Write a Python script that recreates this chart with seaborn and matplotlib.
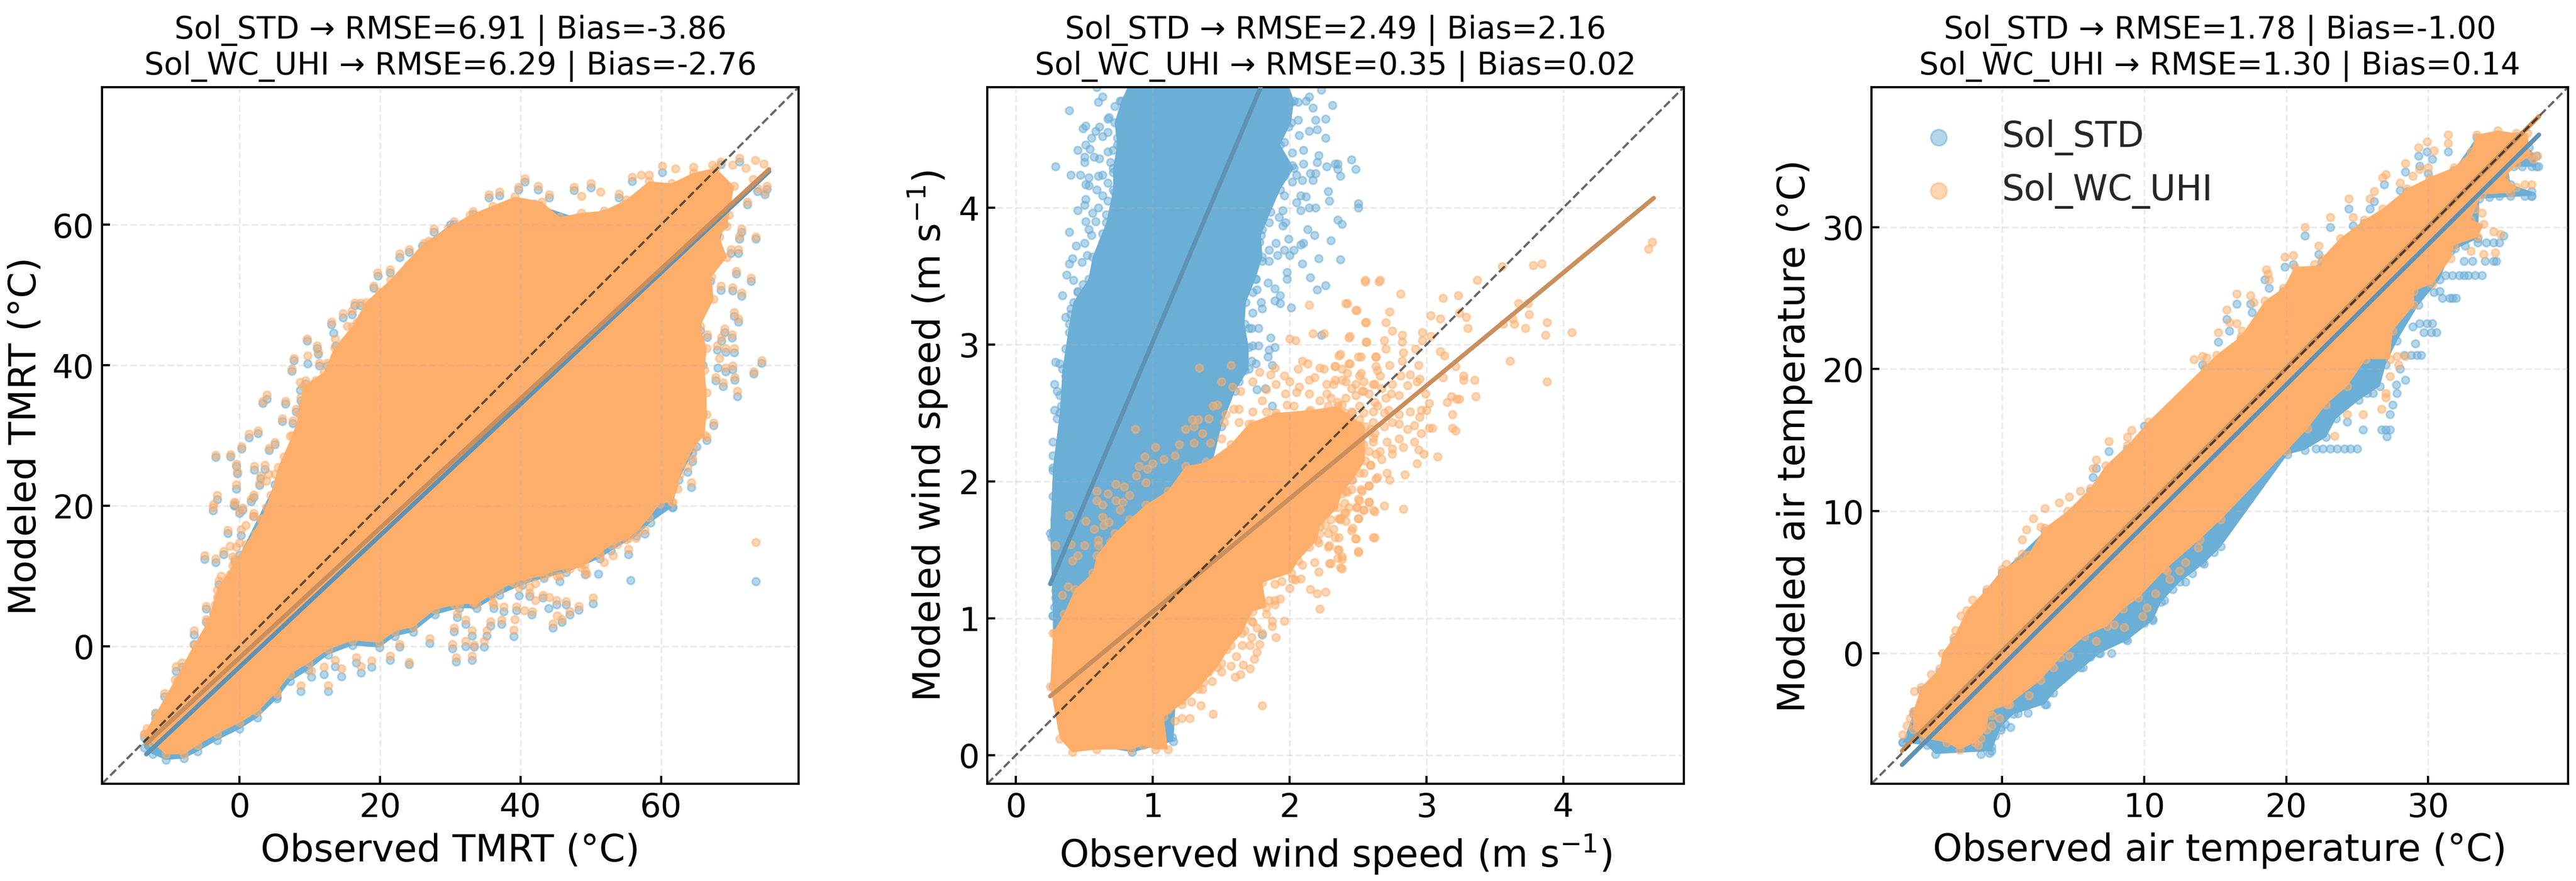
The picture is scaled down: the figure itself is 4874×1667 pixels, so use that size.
import matplotlib
matplotlib.use("Agg")
import matplotlib.pyplot as plt
import pandas as pd
import seaborn as sns

STD = "Sol_STD"
UHI = "Sol_WC_UHI"
BLUE = "#6baed6"
ORANGE = "#fdae6b"
BLUE_LINE = "#5f92b4"
ORANGE_LINE = "#c98f5c"

titles = [
    "Sol_STD → RMSE=6.91 | Bias=-3.86\nSol_WC_UHI → RMSE=6.29 | Bias=-2.76",
    "Sol_STD → RMSE=2.49 | Bias=2.16\nSol_WC_UHI → RMSE=0.35 | Bias=0.02",
    "Sol_STD → RMSE=1.78 | Bias=-1.00\nSol_WC_UHI → RMSE=1.30 | Bias=0.14",
]
xlabels = ["Observed TMRT (°C)", r"Observed wind speed (m s$^{-1}$)", "Observed air temperature (°C)"]
ylabels = ["Modeled TMRT (°C)", r"Modeled wind speed (m s$^{-1}$)", "Modeled air temperature (°C)"]
limits = [(-19.6, 79.6), (-0.21, 4.88), (-9.2, 39.85)]
ticks = [[0, 20, 40, 60], [0, 1, 2, 3, 4], [0, 10, 20, 30]]

# regression line end points
tmrt_fit_x = [-13.3, 75.4]
tmrt_fit_std = [-15.4, 67.6]
tmrt_fit_uhi = [-13.9, 67.9]
wind_fit_x = [0.25, 4.66]
wind_fit_std = [1.25, 11.66]
wind_fit_uhi = [0.43, 4.07]
air_fit_x = [-7.05, 37.8]
air_fit_std = [-7.87, 36.5]
air_fit_uhi = [-6.88, 37.8]

# the clouds are too dense to read point by point: outline of the solid part
tmrt_edge_std = [(-13.6, -13), (-12, -9.5), (-9, -6), (-6, -0.8), (-3, 7), (0, 13), (5, 23), (10, 31), (15, 40),
                 (18, 47), (21.5, 51), (26, 57), (30, 60), (36, 62), (42, 63), (48, 61), (55, 63), (62, 65), (67, 67),
                 (69, 60), (68, 56), (67, 52), (65.6, 45), (66, 40), (66, 33), (64.5, 27.5), (62.5, 23.7),
                 (61.6, 19.8), (58.5, 17.6), (56.5, 15.7), (52.9, 13.6), (51.3, 12.5), (46.5, 10.5), (43.3, 9.7),
                 (40.2, 8.7), (37, 7.3), (33.8, 5.4), (31.3, 5.4), (27.8, 4.5), (24.7, 2), (22.1, 1.4), (19.9, -0.2),
                 (16.1, 0.1), (12.6, -1.2), (9.8, -3.4), (7.2, -5), (5.3, -7.5), (2.5, -10.2), (0, -11.8),
                 (-3.2, -13.4), (-6, -15), (-7.9, -16), (-10.5, -16.2), (-12.4, -15.4), (-13.6, -14.5)]
tmrt_edge_uhi = [(-13.6, -12.5), (-9.2, -4.8), (-6.5, 0.2), (-4.5, 3.5), (-3.2, 8), (-1, 11.5), (0.9, 14.5), (3, 18), (4.4, 21.5),
                 (5.5, 25.5), (7.5, 30), (8.5, 33), (9, 37), (12, 39), (13.5, 42.5), (16, 45.5), (18, 49), (21.5, 52.2), (26.2, 57.4),
                 (29.7, 59.6), (32.8, 61.4), (36, 62.7), (39.2, 64), (43, 63.3), (45.6, 61.1), (48.7, 61.7), (51.9, 62), (55.1, 63.6),
                 (58.3, 66.2), (61.5, 65.9), (64.6, 67.4), (67.8, 68.1), (70.4, 65.5), (69.7, 61.4), (69.4, 59.8),
                 (68.3, 58.3), (69.4, 55.4), (67.2, 52.6), (67.5, 49.4), (65.6, 45.6), (66.5, 42.4), (66.2, 39.3),
                 (66.5, 36.1), (66.5, 33), (66.2, 30.1), (64.6, 28.2), (62.7, 24.4), (62.4, 22.4), (61.5, 20.5),
                 (59.9, 20.3), (58.3, 18.3), (56.7, 16.4), (55.1, 15.2), (52.9, 14.4), (51.3, 13.2), (48.7, 11.2),
                 (46.5, 11), (44, 10.4), (43.3, 10), (40.2, 9.4), (39, 9), (37, 8), (33.8, 6), (31.3, 6),
                 (27.8, 5.2), (24.7, 2.7), (22.1, 2.1), (19.9, 0.5), (16.1, 0.8), (12.6, -0.5), (9.8, -2.4), (7.2, -4),
                 (5.3, -6.5), (2.5, -9.4), (0, -10.9), (-3.2, -12.5), (-6, -14.1), (-7.9, -15.4), (-10.5, -15.4),
                 (-12.4, -13.8), (-13.6, -12.5)]

# single points outside the solid part
tmrt_pts_uhi = [(9.6, 43.8), (11, 42.8), (11.2, 41.9), (7.7, 41), (9.7, 41.4), (7.4, 39.5), (13.1, 46.2), (14.7, 47.4),
                (16, 47.8), (16.4, 48.9), (17.2, 48.9), (13.6, 43.8), (15.3, 45.6), (16.7, 46.1), (13.6, 41.4),
                (12.5, 40.3), (11.3, 40.3), (19.6, 53.2), (19.1, 51.3), (22.8, 55.9), (24.1, 56.5), (27.7, 59.4),
                (21.4, 53.6), (3.9, 35.8), (3.3, 34.9), (6.5, 34.9), (8.6, 37.6), (9.4, 37.8), (10.8, 37.8), (12.2, 38.3),
                (8.7, 35.4), (9, 34.5), (8, 33.8), (8.8, 32.7), (6.1, 32.4), (7.6, 32.1), (1.3, 30.2), (2.6, 30.7),
                (0.3, 28.4), (5, 29), (4.2, 28.2), (-3.4, 27.2), (-1.3, 27.3), (-0.5, 25.9), (-0.3, 24.9), (2.1, 25.6),
                (3.6, 25.8), (3, 24.3), (2.8, 23.2), (-0.5, 23), (-3.2, 21.5), (-0.7, 20.5), (2, 21.6), (1.6, 21),
                (-3.7, 20.2), (-3.8, 19.8), (-0.8, 20.4), (0.4, 19.7), (0, 19.2), (2, 18.9), (-1.7, 16.5), (0.2, 16.6),
                (0.9, 17.2), (-1.4, 14.3), (-0.5, 14.1), (-5, 12.9), (-3.4, 12.5), (-2.3, 13.5), (-0.7, 12.5),
                (-0.3, 11.1), (-2.7, 10), (-3, 9.3), (-1.5, 9.8), (-4.8, 5.7), (-3.2, 7), (-4.8, 3.8), (-3.7, 4.9),
                (-6.5, 2.2), (-9.1, -2.9), (-8.2, -2.4), (-7.2, -2.4), (-8.8, -5), (-10.7, -6.7), (-12, -9.7),
                (-13.2, -11.7), (24.1, -2.3), (21.4, -1.4), (18.8, -2.1), (17.3, -2.9), (14.5, -3.2), (16.6, -1.6),
                (12.6, -5.6), (8.7, -5.6), (12, -3), (10.2, -3.5), (13.6, -2), (22.8, 0.3), (27.1, 1.1), (5.3, -6.8),
                (73.5, 14.8), (50.3, 6.9), (48.3, 5.7), (46.5, 6.4), (47, 4.9), (45.1, 6.5), (43.2, 7.3), (44.1, 7),
                (42.1, 6.5), (41.7, 4.9), (45.2, 4.3), (45.9, 3.8), (44.6, 3.2), (39.8, 8.3), (41.3, 7.6), (40.5, 5.1),
                (39.4, 5.6), (37.6, 5.6), (35.7, 3.5), (37.3, 3.7), (39.2, 3.8), (39, 2.3), (35.2, 2.2), (34.8, 0.7),
                (33.4, 0.2), (32.2, 0.7), (30.3, 0.3), (33.1, -1.4), (30.8, -1.6), (33.1, 2.2), (32.2, 3.7), (30.5, 2.6),
                (31, 4.6), (33.2, 6.5), (36.2, 5.9), (45.6, 10), (49.2, 10.7), (55.4, 13.8), (57.7, 16.5), (61.7, 20.5),
                (64.3, 23.3), (63.8, 25.5), (66.5, 29.8), (64.5, 26.7), (73.5, 58.3), (74.3, 40.7), (73.2, 39.1),
                (72.8, 52.4), (71.5, 50.3), (71.5, 59.4), (71.2, 58.4), (70.9, 36.3), (70.2, 51.1), (68.5, 51.3),
                (70.4, 47.5), (71, 46.6), (69.1, 45.2), (70.1, 44.4), (68, 42.8), (69.2, 42.4), (70.4, 42.4), (68.3, 41),
                (70.2, 39.9), (69.2, 39.6), (70.5, 38.3), (67.8, 38.3), (68.8, 37.5), (67.5, 31.8), (68.6, 44), (66.6, 44.4),
                (70.7, 53.4), (70, 56.5), (71, 56.5), (75.1, 65.5), (74.8, 64.7), (73.7, 65.2), (72.3, 63.3), (73.1, 66.5),
                (74.6, 68.7), (73.4, 69.2), (72.1, 68.1), (71.2, 69.5), (70.2, 68.5), (68.5, 69), (67.3, 68.5), (64.6, 68.2),
                (62.1, 68), (60.2, 68.4), (55.9, 66.8), (57.2, 67.1), (58.3, 67.1), (54, 64.4), (51.4, 64.7), (50, 65.9),
                (47.6, 65.4), (48.7, 64.1), (40.6, 66.6), (39.7, 65.4), (42.5, 65.5), (44.1, 64.3), (37, 64.7), (35.5, 64.3),
                (33.2, 61.9), (30.5, 60.5),
                (33, 7.5), (33.2, 6.2), (32.8, 8.1), (30.9, 6.5), (30.6, 5.9), (31.6, 6.5), (36, 7.2), (36, 6.2), (35.7, 7.8), (35.1, 9.1),
                (37, 9.7), (38.6, 9.2), (40.2, 10), (41, 9.7), (41.3, 8.4), (42.1, 8.9), (44.9, 11.6), (45.2, 10), (47, 11), (47.5, 11.6),
                (49.1, 11.6), (49.4, 10.3), (51.3, 12.9), (51.9, 11.9), (53.2, 15.1), (53.8, 14.5), (53.2, 12.9), (56.4, 15.4), (55.4, 15.4),
                (7.2, 29.9), (7.9, 28.9), (8.8, 27), (7.6, 27), (6.3, 27), (5, 24.5), (4.1, 24.5), (3.8, 23.5), (8.8, 30.2), (10.1, 31.5),
                (9.8, 34.6), (10.4, 35.3), (12, 37.5), (13.6, 39), (14.8, 43.2), (15.5, 41.6), (16.7, 43.5), (18, 47.3), (19.9, 50.4),
                (22.4, 52), (24, 54.2), (25.9, 56.1), (26.9, 57.7), (28.1, 57.7), (1.9, 18.5), (3.8, 19.8), (3.1, 18.2), (2.2, 16), (0, 14.7),
                (-1, 12.8), (-0.7, 11.6), (-1.3, 10.3), (-2.6, 8.1), (-3.5, 5.9), (-4.5, 3), (-5.7, 0.2), (-7, -2.4)]
tmrt_pts_std = [(9.6, 43.5), (11, 42.4), (11.2, 41.6), (7.7, 40.7), (9.7, 40.2), (7.4, 39.2), (13.1, 45.8), (14.7, 46.8),
                (16, 47.2), (16.4, 48.5), (17.2, 48.5), (13.7, 42.8), (13.4, 44.6), (13.6, 41), (12.5, 39.9), (11.3, 39.9),
                (19.7, 52.7), (19.1, 51), (22.8, 55.4), (24.1, 56.1), (27.7, 59), (21.4, 53.2), (3.9, 35.2), (3.3, 34.6),
                (6.5, 34.5), (8.6, 36.5), (9.4, 37.4), (8.7, 35), (9, 34.1), (8, 33.4), (6.1, 32), (7.6, 31.7), (1.3, 29.7),
                (2.6, 30.3), (0.3, 28.1), (5, 28.7), (4.2, 27.9), (-3.4, 26.9), (-1.3, 27), (-0.5, 25.6), (-0.3, 24.6),
                (2.1, 25.1), (3.6, 25.2), (3, 23.9), (2.8, 22.9), (-0.5, 22.4), (-3.2, 20.9), (-0.7, 20.1), (2, 21.2), (1.6, 20.6),
                (-3.8, 19.3), (-0.8, 20), (0.4, 19.4), (0, 18.9), (2, 18.5), (-1.7, 16.1), (0.2, 15.8), (-5, 12.4), (-3.4, 11.9),
                (-2.3, 13.1), (-0.7, 12.1), (-0.3, 10.7), (-3, 8.8), (-1.5, 9.4), (-4.8, 5.3), (-4.8, 3.4), (-3.7, 4.5),
                (-6.5, 1.6), (-6.5, 0.25), (-9.1, -3.6), (-8.2, -3), (-10.7, -7.2), (-12, -10.3), (24.1, -2.6), (21.4, -2),
                (18.8, -3), (17.3, -3.8), (14.5, -4.3), (16.6, -2.4), (12.6, -6.4), (8.7, -6.4), (12, -4), (10.2, -4.4),
                (13.6, -2.9), (22.8, -0.1), (27.1, 0.4), (5.3, -7.2), (73.5, 9.2), (55.7, 9.4), (50.3, 6.1), (48.3, 5.2),
                (46.5, 5.9), (47, 4.5), (45.1, 5.9), (44, 5.4), (43.2, 6.9), (41.6, 4.5), (45.9, 3.4), (44.6, 2.6), (39.8, 7.2),
                (41.3, 7.1), (39.4, 5.1), (37.6, 4.9), (35.7, 2.9), (37.3, 3.1), (39, 1.4), (35.2, 1.5), (34.8, -0.1),
                (33.4, -0.1), (32.2, 0), (30.3, -0.3), (33.1, -2), (30.8, -2.2), (33.1, 1.5), (32.2, 3.1), (30.5, 2.1),
                (31, 4.1), (33.2, 5.9), (36.2, 5.4), (45.6, 9.2), (49.2, 10.2), (51.1, 10.3), (55.4, 13.1), (57.7, 16),
                (61.7, 19.8), (64.3, 22.6), (63.8, 24.8), (66.5, 29.3), (65.1, 28.4), (64.5, 26.3), (73.5, 58), (74.3, 40.3),
                (73.2, 38.8), (72.8, 52), (71.5, 49.9), (71.5, 59), (71.2, 58), (70.9, 35.6), (70.2, 50.6), (68.5, 50.7),
                (70.4, 47), (71, 46.2), (69.1, 44.7), (70.1, 43.9), (68, 42.2), (69.2, 41.9), (70.4, 41.8), (68.1, 39.6),
                (70.2, 39.4), (69.2, 39.1), (70.5, 37.9), (67.8, 37.8), (68.8, 37), (67.5, 31.4), (68.6, 43.5), (66.6, 44),
                (70.7, 53), (70, 56), (71, 56), (75.1, 65.1), (74.8, 64.3), (73.7, 64.8), (72.3, 62.9), (71.2, 69), (68.5, 68.6),
                (60.2, 67.5), (55.9, 66.2), (54, 63.9), (50, 65.3), (47.6, 64.9), (40.6, 66.1), (39.7, 65), (42.5, 65), (44.1, 63.9),
                (37, 64.2), (35.5, 63.9), (33.2, 61.5), (30.5, 60.1)]

wind_edge_std = [(0.27, 1.02), (0.25, 1.62), (0.27, 2.1), (0.32, 2.5), (0.34, 2.82), (0.39, 3.15), (0.42, 3.31), (0.53, 3.48),
                 (0.56, 3.64), (0.66, 3.89), (0.71, 4.13), (0.71, 4.29), (0.74, 4.46), (0.72, 4.62), (0.77, 4.78), (0.87, 5.0),
                 (1.96, 5.0), (2.03, 4.78), (2.01, 4.62), (1.93, 4.46), (2.03, 4.29), (1.93, 4.13), (1.86, 3.97), (1.79, 3.8),
                 (1.8, 3.64), (1.75, 3.48), (1.68, 3.31), (1.67, 3.15), (1.7, 2.98), (1.7, 2.82), (1.6, 2.66), (1.5, 2.4),
                 (1.4, 2), (1.2, 1), (1.15, 0.1), (0.85, 0.02), (0.4, 0.1), (0.27, 0.5)]
wind_edge_uhi = [(0.32, 0.12), (0.41, 0.02), (0.59, 0.04), (0.84, 0.04), (0.93, 0.07), (1.02, 0.04), (1.11, 0.04), (1.08, 0.28),
                 (1.21, 0.37), (1.33, 0.48), (1.37, 0.53), (1.47, 0.64), (1.57, 0.8), (1.65, 0.89), (1.73, 1.05), (1.83, 1.08),
                 (1.8, 1.26), (2.01, 1.33), (2.06, 1.42), (2.2, 1.57), (2.22, 1.67), (2.35, 1.81), (2.38, 1.91), (2.46, 2.01),
                 (2.55, 2.15), (2.55, 2.4), (2.35, 2.55), (2.15, 2.52), (1.9, 2.5), (1.7, 2.42), (1.57, 2.27), (1.39, 2.14), (1.24, 2.11),
                 (1.11, 1.93), (0.95, 1.83), (0.83, 1.72), (0.72, 1.62), (0.59, 1.46), (0.56, 1.33), (0.43, 1.21), (0.35, 1.03),
                 (0.27, 0.89), (0.25, 0.5)]
wind_pts_std = [(0.39, 4.71), (0.29, 4.3), (0.4, 4.24), (0.47, 4.24), (0.53, 4.22), (0.45, 4.42), (0.51, 4.46), (0.54, 4.43),
                (0.5, 4.37), (0.5, 4.33), (0.57, 4.37), (0.61, 4.36), (0.49, 4.58), (0.51, 4.6), (0.55, 4.51), (0.58, 4.56),
                (0.61, 4.59), (0.63, 4.52), (0.67, 4.55), (0.6, 4.77), (0.63, 4.81), (0.68, 4.66), (0.59, 4.88), (0.6, 4.23),
                (0.63, 4.24), (0.67, 4.41), (0.51, 4.17), (0.53, 4.16), (0.59, 4.13), (0.63, 4.09), (0.51, 4.06), (0.5, 4.02),
                (0.45, 3.98), (0.56, 3.96), (0.6, 4.0), (0.51, 3.9), (0.58, 3.9), (0.53, 3.84), (0.39, 3.82), (0.55, 3.8),
                (0.63, 3.81), (0.44, 3.72), (0.5, 3.74), (0.52, 3.65), (0.39, 3.59), (0.48, 3.6), (0.41, 3.63), (0.37, 3.51),
                (0.42, 3.47), (0.49, 3.44), (0.34, 3.36), (0.45, 3.39), (0.5, 3.34), (0.4, 3.26), (0.36, 3.2), (0.39, 3.09),
                (0.36, 2.97), (0.29, 2.87), (0.32, 2.86), (0.28, 2.71), (0.3, 2.66), (0.28, 2.52), (0.3, 2.46), (0.33, 2.55),
                (0.39, 2.81), (0.36, 2.77), (2.23, 4.86), (2.31, 4.75), (2.26, 4.65), (2.17, 4.73), (2.14, 4.81), (2.19, 4.64),
                (2.2, 4.57), (2.14, 4.56), (2.26, 4.51), (2.07, 4.53), (1.96, 4.48), (2.02, 4.4), (2.1, 4.42), (2.21, 4.38),
                (2.45, 4.35), (2.48, 4.28), (2.33, 4.32), (2.35, 4.32), (2.35, 4.28), (2.37, 4.23), (2.27, 4.3), (2.2, 4.33),
                (2.1, 4.32), (2.02, 4.31), (2.15, 4.25), (2.19, 4.25), (2.05, 4.24), (2.09, 4.2), (2.17, 4.2), (2.02, 4.19),
                (1.96, 4.09), (2.08, 4.09), (2.12, 4.08), (2.28, 4.12), (2.29, 4.05), (2.05, 4.04), (2.14, 4.0), (2.19, 4.0),
                (2.08, 3.98), (1.95, 3.98), (2.5, 4.03), (2.5, 4.0), (1.92, 3.93), (1.97, 3.89), (1.95, 3.87), (1.85, 3.89),
                (2.35, 3.91), (2.38, 3.88), (2.13, 3.84), (2.18, 3.8), (2.3, 3.76), (1.99, 3.77), (1.9, 3.74), (2.1, 3.74),
                (2.08, 3.73), (2.03, 3.69), (1.96, 3.69), (1.91, 3.65), (2.0, 3.65), (2.21, 3.63), (2.37, 3.62), (2.09, 3.59),
                (1.98, 3.53), (1.98, 3.48), (2.15, 3.49), (2.2, 3.4), (2.26, 3.43), (1.89, 3.41), (1.93, 3.36), (1.89, 3.32),
                (1.93, 3.3), (2.01, 3.27), (1.79, 3.31), (1.8, 3.26), (1.84, 3.45), (2.23, 3.07), (1.86, 3.05), (1.77, 3.12),
                (1.72, 3.12), (1.89, 2.98), (1.84, 2.91), (1.77, 2.99), (1.85, 2.96), (1.87, 2.85), (1.72, 2.88), (1.75, 2.86),
                (1.54, 2.91), (1.76, 2.67), (1.82, 2.68), (1.87, 2.55), (0.27, 2.29), (0.27, 2.19), (0.27, 2.08), (0.27, 1.89),
                (0.28, 1.72), (0.27, 1.63), (0.26, 1.59), (0.29, 1.46), (0.29, 1.2), (0.29, 1.15), (0.28, 1.08), (0.27, 1.02),
                (1.12, 0.18), (1.14, 0.13), (1.8, 0.88), (0.85, 0.06), (1.02, 0.1),
                (0.67, 4.65), (0.76, 4.6), (0.72, 4.74), (0.76, 4.78), (0.84, 4.78), (0.79, 4.67), (0.74, 4.51), (0.76, 4.46), (0.71, 4.42),
                (0.69, 4.33), (0.71, 4.26), (0.67, 4.18), (0.72, 4.11), (0.67, 4.05), (0.66, 3.95), (0.71, 3.87), (0.63, 3.74), (0.66, 3.74),
                (0.63, 3.64), (0.59, 3.55), (0.58, 3.48), (0.5, 3.38), (0.45, 3.38), (0.5, 3.31), (0.4, 3.22), (0.43, 3.07), (0.41, 2.87),
                (0.37, 2.76), (0.32, 2.63), (0.35, 2.5), (1.89, 4.87), (1.96, 4.83), (2.01, 4.77), (2.06, 4.77), (2.12, 4.78), (1.98, 4.7),
                (2.06, 4.64), (1.99, 4.59), (1.93, 4.54), (1.89, 4.46), (1.94, 4.36), (1.89, 4.31), (1.96, 4.23), (1.89, 4.15), (1.83, 4.11),
                (1.8, 3.98), (1.8, 3.84), (1.78, 3.75), (1.73, 3.67), (1.85, 3.69), (1.8, 3.61), (1.85, 3.61), (1.73, 3.54), (1.75, 3.48),
                (1.76, 3.4), (1.73, 3.38), (1.73, 3.23), (1.7, 3.12), (1.63, 2.99), (1.73, 2.99), (1.67, 2.81), (1.63, 2.73)]
wind_pts_uhi = [(4.65, 3.75), (4.62, 3.7), (3.84, 3.59), (3.78, 3.58), (3.55, 3.57), (3.37, 3.47), (2.55, 3.47), (2.66, 3.47),
                (2.81, 3.37), (3.12, 3.34), (3.23, 3.36), (2.42, 3.3), (2.49, 3.25), (2.73, 3.24), (3.03, 3.21), (3.1, 3.19),
                (3.24, 3.23), (3.29, 3.2), (3.67, 3.3), (3.74, 3.3), (3.75, 3.22), (3.63, 3.19), (3.56, 3.15), (3.64, 3.15),
                (3.72, 3.12), (3.88, 3.16), (3.87, 3.07), (4.06, 3.09), (2.56, 3.16), (2.7, 3.16), (2.75, 3.1), (3.3, 3.12),
                (2.97, 3.09), (3.03, 3.06), (2.82, 3.07), (2.44, 3.06), (2.56, 3.02), (2.69, 3.03), (2.82, 3.02), (2.97, 3.03),
                (2.7, 2.97), (2.92, 2.97), (3.1, 2.95), (3.13, 2.92), (3.61, 2.88), (3.88, 2.73), (2.37, 2.93), (2.83, 2.94),
                (2.63, 2.91), (2.52, 2.91), (2.33, 2.84), (2.43, 2.86), (2.63, 2.84), (2.73, 2.85), (2.82, 2.88), (2.94, 2.85),
                (3.21, 2.84), (3.27, 2.77), (3.27, 2.74), (3.35, 2.74), (3.12, 2.76), (2.88, 2.78), (2.95, 2.75), (2.81, 2.77),
                (2.66, 2.77), (2.52, 2.79), (2.42, 2.79), (3.36, 2.62), (3.18, 2.62), (3.15, 2.58), (3.22, 2.6), (3.24, 2.6),
                (3.19, 2.49), (3.02, 2.57), (2.88, 2.51), (2.96, 2.52), (3.0, 2.52), (2.95, 2.47), (3.19, 2.39), (3.21, 2.37),
                (3.02, 2.39), (3.04, 2.39), (2.91, 2.41), (2.86, 2.38), (2.96, 2.35), (2.91, 2.29), (2.94, 2.23), (2.98, 2.2),
                (3.08, 2.18), (2.93, 2.13), (2.84, 2.05), (2.73, 2.01), (2.64, 2.03), (2.71, 2.06), (2.83, 2.25), (2.8, 2.42),
                (2.86, 2.7), (2.99, 2.64), (2.93, 2.73), (2.8, 2.49), (2.72, 2.52), (2.8, 2.63), (2.74, 2.64), (2.62, 2.71),
                (2.53, 2.66), (2.45, 2.68), (2.33, 2.74), (2.64, 2.55), (2.51, 2.45), (2.45, 2.51), (2.69, 2.4), (2.71, 2.29),
                (2.8, 2.31), (2.75, 2.24), (2.61, 2.29), (2.66, 2.22), (2.75, 2.2), (2.58, 1.97), (2.42, 1.92), (2.53, 1.93),
                (2.51, 1.86), (2.58, 1.85), (2.69, 1.82), (2.83, 1.8), (2.62, 1.78), (2.54, 1.79), (2.49, 1.81), (2.4, 1.77),
                (2.5, 1.73), (2.37, 1.73), (2.46, 1.66), (2.41, 1.71), (2.48, 1.58), (2.62, 1.59), (2.36, 1.59), (2.5, 1.48),
                (2.36, 1.5), (2.38, 1.43), (2.35, 1.44), (2.3, 1.4), (2.38, 1.36), (2.29, 1.53), (2.26, 1.68), (2.32, 1.81),
                (2.4, 1.84), (2.27, 2.64), (2.32, 2.71), (2.38, 2.74), (2.28, 2.55), (2.35, 2.58), (2.41, 2.61), (2.48, 2.71),
                (2.54, 2.73), (2.58, 2.64), (2.67, 2.68), (2.75, 2.71), (2.7, 2.61), (2.62, 2.58), (2.51, 2.55), (2.4, 2.5),
                (2.32, 2.48), (2.27, 2.42), (2.35, 2.38), (2.45, 2.42), (2.54, 2.5), (2.61, 2.43), (2.69, 2.5), (2.75, 2.43),
                (2.53, 2.35), (2.43, 2.32), (2.33, 2.29), (2.27, 2.32), (2.62, 2.35), (2.5, 2.25), (2.58, 2.22), (2.4, 2.22),
                (2.32, 2.19), (2.67, 2.16), (2.49, 2.16), (2.59, 2.12), (2.4, 2.09), (2.51, 2.06), (2.35, 2.03), (2.45, 2.01),
                (2.28, 1.94), (2.33, 1.88), (2.38, 1.94), (0.87, 2.38), (1.02, 2.25), (0.94, 2.18), (0.9, 2.11), (0.96, 2.09),
                (1.0, 2.13), (1.08, 2.16), (1.16, 2.19), (1.24, 2.38), (1.3, 2.4), (1.19, 2.27), (1.3, 2.28), (1.42, 2.28),
                (1.5, 2.31), (1.36, 2.35), (0.88, 2.04), (0.95, 1.99), (0.73, 1.98), (0.79, 1.96), (0.59, 1.93), (0.67, 1.91),
                (0.59, 1.86), (0.63, 1.83), (0.73, 1.86), (0.78, 1.85), (0.83, 1.9), (0.76, 1.79), (0.39, 1.75), (0.51, 1.71),
                (0.63, 1.74), (0.57, 1.65), (0.64, 1.68), (0.68, 1.7), (0.4, 1.54), (0.29, 1.53), (0.5, 1.53), (0.6, 1.57),
                (0.6, 1.53), (0.69, 1.56), (0.41, 1.42), (0.45, 1.46), (0.34, 1.17), (0.38, 1.23), (0.28, 0.89), (1.8, 0.36),
                (1.44, 0.3), (1.27, 0.27), (1.21, 0.27), (1.16, 0.25), (1.35, 0.36), (1.28, 0.39), (1.6, 0.57), (1.64, 0.59),
                (1.71, 0.63), (1.66, 0.66), (1.57, 0.65), (1.5, 0.61), (1.43, 0.54), (1.61, 0.72), (1.74, 0.7), (1.76, 0.75),
                (1.78, 0.81), (1.71, 0.8), (1.9, 0.86), (1.8, 0.89), (1.72, 0.86), (1.76, 0.93), (1.67, 0.91), (1.96, 0.98),
                (1.87, 0.94), (1.87, 0.98), (1.72, 0.98), (1.93, 1.14), (1.89, 1.1), (1.85, 1.13), (2.0, 1.22), (2.22, 1.07),
                (2.26, 1.19), (2.2, 1.18), (2.15, 1.21), (2.08, 1.29), (2.04, 1.28), (1.94, 1.27), (1.89, 1.25), (2.21, 1.34),
                (2.37, 1.37), (2.29, 1.4), (2.18, 1.41), (2.38, 1.45), (2.5, 1.49), (2.35, 1.5), (2.48, 1.58), (2.61, 1.59),
                (2.28, 1.52), (2.21, 1.55), (2.45, 1.64), (2.5, 1.73), (2.41, 1.77), (2.36, 1.73), (2.3, 1.72), (2.61, 1.79),
                (2.54, 1.79), (2.49, 1.81), (2.58, 1.85), (2.5, 1.87), (2.41, 1.93), (2.52, 1.94), (2.58, 1.97), (2.63, 2.02),
                (2.55, 3.46), (2.65, 3.46), (2.14, 3.29), (2.41, 3.3), (2.48, 3.25), (2.55, 3.16), (2.17, 3.08), (2.25, 3.08),
                (2.43, 3.05), (2.0, 3.04), (2.04, 3.03), (2.56, 3.02), (2.36, 2.92), (1.34, 2.83), (1.57, 2.85), (1.78, 2.8),
                (1.89, 2.83), (1.86, 2.78), (2.09, 2.88), (2.13, 2.86), (2.06, 2.82), (2.22, 2.83), (2.25, 2.82), (2.33, 2.84),
                (2.5, 2.91), (2.63, 2.91), (2.44, 2.86), (1.5, 2.73), (1.58, 2.69), (1.73, 2.73), (1.9, 2.71), (1.96, 2.77),
                (2.0, 2.73), (2.07, 2.69), (2.18, 2.76), (2.14, 2.64), (2.05, 2.65), (1.97, 2.64), (1.83, 2.67), (1.64, 2.66),
                (1.47, 2.56), (1.44, 2.55), (1.63, 2.53), (1.8, 2.59), (1.73, 2.51), (1.9, 2.48), (1.29, 2.45), (1.33, 2.45),
                (1.41, 2.46), (1.53, 2.49), (1.59, 2.53), (1.83, 2.51), (1.98, 2.56), (2.03, 2.55), (2.14, 2.51), (2.22, 2.59),
                (2.3, 2.61), (2.38, 2.56), (2.48, 2.63), (2.54, 2.66), (2.41, 2.73), (2.38, 2.82), (2.27, 2.71), (2.14, 2.74),
                (2.51, 2.77), (2.64, 2.81), (2.61, 2.71), (2.46, 2.5), (2.61, 2.51), (1.89, 2.43), (2.06, 2.45), (2.22, 2.45),
                (2.35, 2.43), (2.51, 2.41), (1.73, 2.42), (1.63, 2.43), (1.52, 2.43),
                (2.22, 1.62), (2.28, 1.62), (2.32, 1.65), (2.33, 1.59), (2.37, 1.72), (2.43, 1.81), (2.45, 1.94), (2.54, 2.06), (2.59, 2.12),
                (2.5, 2.14), (2.63, 2.2), (2.54, 2.27), (2.46, 2.33), (2.61, 2.32), (2.38, 2.38), (2.59, 2.38), (2.14, 1.52), (2.09, 1.39),
                (2.02, 1.29), (1.98, 1.36), (1.89, 1.13), (1.83, 1.03), (1.73, 0.97), (1.65, 0.8), (1.54, 0.77), (1.5, 0.67), (1.41, 0.61),
                (1.36, 0.48), (1.21, 0.4), (1.11, 0.33)]

air_edge_std = [(-7, -6.3), (-6.26, -4.3), (-5.7, -2.6), (-4.4, -1.3), (-3.4, 0.9), (-1.1, 4.3), (0, 5.7), (3, 8.6), (6.2, 11.4),
                (8.8, 14.4), (14.3, 20), (16.8, 22.1), (19.8, 25.5), (22.5, 27.6), (25.5, 30.3), (28.5, 32.5), (31.8, 34),
                (33.4, 36.3), (36.2, 36.4), (37.6, 35), (37.6, 34.25), (35.6, 34.25), (35.8, 33), (37.3, 32.5), (37.3, 32.2),
                (33.6, 32), (33.5, 29.2), (31.6, 28.3), (30.8, 26.3), (29.3, 24.5), (27.8, 22), (27, 20.3), (26.6, 18.8),
                (25.1, 17.8), (23.5, 16.5), (22.8, 15.2), (21.3, 14.3), (20.1, 14), (15.4, 7.5), (14.2, 6.3), (12.5, 5),
                (11.2, 3.6), (10.6, 2.3), (8.8, 0.9), (6.9, 0), (5.7, -1), (3.6, -2.8), (3, -3.6), (0.8, -4.3), (-0.1, -5.2),
                (-0.75, -6.9), (-4.7, -7.1), (-5.3, -6.5)]
air_edge_uhi = [(-6.26, -5.35), (-6.26, -4.1), (-5.7, -2.4), (-4.4, -1.1), (-4.2, 0), (-3.4, 1.1), (-2.5, 3), (-1.1, 4.5), (0, 5.9),
                (1.8, 6.9), (3, 8.8), (4.6, 10), (6.2, 11.6), (7.3, 13.2), (8.8, 14.6), (10.3, 16.3), (14.3, 20.2), (15.1, 21),
                (16.8, 22.3), (18.5, 24.8), (19.8, 25.7), (20.6, 27.2), (22.5, 27.3), (22.5, 27.8), (23.8, 29.2), (25.5, 30.5),
                (26.8, 31.3), (28.5, 32.7), (30.1, 33.5), (31.8, 34.2), (33, 35.3), (33.4, 36.5), (34.9, 36.8), (36.2, 36.6),
                (37, 36.6), (37.2, 35), (36.2, 34.4), (35.4, 33.5), (36.2, 32.8), (35.8, 32.4), (33.8, 32.3), (33.3, 31.3),
                (33, 30.5), (33.9, 30.2), (33.5, 29.3), (31.8, 28.7), (31.6, 27.8), (30.3, 26), (29, 25.5), (29, 24.5), (27.5, 22.7),
                (27.3, 20.7), (25.6, 20.7), (24.3, 18.8), (22.8, 17.5), (21.5, 15.8), (20, 14.2), (15.4, 9.4), (13.9, 8), (11.5, 5.9),
                (9.6, 3.9), (8.5, 3.1), (7.4, 1.9), (5.8, 1.2), (4.1, -0.3), (2.7, -1.9), (0.5, -3.6), (-0.9, -4.1), (-1.1, -5.4),
                (-1.9, -6.3), (-3, -6.8), (-3.9, -6.3), (-5.5, -6)]
air_pts_uhi = [(31.4, 36.5), (31.4, 35.9), (29.9, 36), (29.3, 35.6), (30.4, 35.4), (28.4, 34.5), (29.4, 34.1), (30, 34.2), (27, 33.7),
               (26.8, 33.5), (28, 33.1), (28.9, 33.6), (26.2, 32.5), (25.9, 32), (24.4, 32), (23.1, 30.7), (24.7, 30.7), (21.3, 30),
               (22.3, 28.7), (20.5, 28), (19.9, 27.9), (22, 27.4), (18.6, 27), (18.7, 26.7), (18.8, 26.3), (16.5, 25.3), (17.5, 25.2),
               (17.7, 24.7), (15.8, 24.2), (15.2, 22.6), (16, 23.3), (16.5, 23.2), (16.9, 22.7), (14.1, 20.9), (14.4, 20.8), (13.5, 20.7),
               (33.8, 31), (33, 28.3), (33.9, 28.1), (34.7, 28.2), (34.6, 29.7), (35.1, 29.5), (37.3, 33), (36.8, 33), (37.7, 35),
               (37.4, 34.8), (28.4, 20.9), (27.8, 20.9), (27.9, 20.3), (27.3, 19.5), (27, 18.3), (27, 18), (26.7, 17.2), (25.4, 16.8),
               (24.3, 16.8), (23.4, 15.3), (7.5, 14.9), (6.6, 13.6), (6.4, 13), (5.5, 11.4), (4.7, 11), (4, 10.6), (3, 10.2), (2.2, 9.5),
               (2.7, 8.9), (1.7, 8.7), (1.4, 8), (1.4, 7), (0.3, 6.3), (1.1, 6.5), (-2.1, 3.75), (-2.9, 2.65), (-3.3, 1.6), (-5, -1.5),
               (-6.2, -2.7), (-6.5, -4.6), (-7, -5.75), (-6.7, -5.1), (9.1, 15.7), (8.8, 15.2), (13.8, 7.45), (12.9, 6.4), (12.5, 5.8),
               (11.8, 5.2), (11.6, 5.8), (10.8, 4.2), (10.2, 3.2), (9.9, 2.6), (8.6, 1.8), (7.9, 2), (6.6, 0.85), (4.7, -0.2), (3.6, -1),
               (1.9, -3), (0.35, -3.6), (-0.2, -4.6), (-0.7, -4.4), (-0.75, -5.1), (-1.5, -6), (-1.7, -6.5)]
air_pts_std = [(31.4, 35.3), (29.9, 35.3), (29.3, 35), (30.3, 34.8), (28.4, 33.9), (29.4, 34.3), (30, 33.8), (26.9, 33), (28, 32.6), (26.2, 31.8),
               (25.9, 31.3), (24.4, 31.3), (23.1, 30), (24.7, 30.1), (21.3, 29.4), (22.3, 28.1), (19.9, 27.2), (20.5, 27.4), (18.8, 25.7),
               (18.5, 26.3), (16.5, 24.6), (17.5, 24.6), (17.6, 24), (15.8, 23.5), (15.2, 21.9), (16, 22.7), (14.1, 20.3), (35.3, 29.4),
               (34.6, 28.9), (35, 28.9), (34.1, 28.9), (33.5, 28.9), (32.6, 28.7), (31.9, 28.5), (31.2, 28.2), (34, 27.6), (34.6, 27.6),
               (34.8, 27.6), (33.1, 27.6), (32.5, 27.6), (33.8, 26.6), (33.3, 26.6), (32.8, 26.6), (32.2, 26.6), (31.7, 26.6), (32.5, 26.6),
               (31.2, 26.6), (31.95, 25), (31.5, 25), (31, 25), (31.7, 25), (30.8, 25.5), (30.4, 25.4), (30.6, 22.6), (30.2, 22.6), (29.7, 22.6),
               (30.3, 23.2), (29.9, 23.2), (29.4, 23.2), (28.9, 23), (37.3, 32.2), (36.8, 32.2), (35.8, 32.2), (35, 32.2), (34.3, 32.1),
               (37.75, 34.25), (37.3, 34.25), (36.6, 34.25), (36, 34.25), (37.1, 35.6), (29.2, 21), (29.5, 21), (28.8, 21), (28.3, 21), (29.1, 21.8),
               (28.4, 19.25), (27.75, 18.9), (27.8, 18.3), (28, 20), (27.5, 17.5), (27.3, 16.8), (25.4, 15.75), (27, 15.75), (26.7, 15.75),
               (27.3, 15.75), (27.1, 15.25), (24.3, 16.3), (25, 14.4), (24.5, 14.4), (24.1, 14.4), (23.6, 14.4), (23.1, 14.4), (22.6, 14.4),
               (22.1, 14.4), (24.3, 18.5), (26.1, 18.3), (25.7, 18.3), (7.5, 14.2), (6.6, 13), (6.4, 12.4), (10, 16), (-6.2, -4.1), (7.7, 0),
               (5.5, -1), (3.3, -2.8), (1.8, -4.2), (1.1, -4.25), (0.6, -5.2), (0.2, -5), (-0.1, -5.4), (-0.5, -5.8), (-0.75, -6.6),
               (-0.9, -7.05), (-1.5, -7.1), (-7, -6.25), (14.9, 7.1), (14.1, 6.4), (13.4, 5.6), (12.9, 5), (12, 4.5), (11.4, 3.7), (10.6, 2.4),
               (10, 2.1), (8.7, 1), (6.8, 0), (6.2, -0.25), (3.7, -2.1), (3.1, -3.6)]

panels = [
    (tmrt_edge_std, tmrt_edge_uhi, tmrt_pts_std, tmrt_pts_uhi, tmrt_fit_x, tmrt_fit_std, tmrt_fit_uhi),
    (wind_edge_std, wind_edge_uhi, wind_pts_std, wind_pts_uhi, wind_fit_x, wind_fit_std, wind_fit_uhi),
    (air_edge_std, air_edge_uhi, air_pts_std, air_pts_uhi, air_fit_x, air_fit_std, air_fit_uhi),
]
axes_left = [193, 1868, 3541]

sns.set_style("white")
plt.rcParams["font.family"] = ["DejaVu Sans"]
plt.rcParams["xtick.direction"] = "in"
plt.rcParams["ytick.direction"] = "in"
plt.rcParams["xtick.bottom"] = True
plt.rcParams["ytick.left"] = True

fig = plt.figure(figsize=(4874 / 300, 1668 / 300), dpi=300)


def draw_cloud(ax, edge, pts, color, label):
    # solid body, then the outline and the loose points on top
    edge_df = pd.DataFrame(edge, columns=["obs", "mod"])
    pts_df = pd.DataFrame(pts, columns=["obs", "mod"])
    ax.fill(edge_df["obs"], edge_df["mod"], color=color, lw=0, zorder=1)
    sns.scatterplot(data=pd.concat([edge_df, pts_df]), x="obs", y="mod", color=color, edgecolor=color,
                    s=12, linewidth=0.8, alpha=0.5, label=label, zorder=1, ax=ax)


for i, (edge_std, edge_uhi, pts_std, pts_uhi, fit_x, fit_std, fit_uhi) in enumerate(panels):
    ax = fig.add_axes([axes_left[i] / 4874, 184 / 1668, 1318 / 4874, 1318 / 1668])
    draw_cloud(ax, edge_std, pts_std, BLUE, STD)
    draw_cloud(ax, edge_uhi, pts_uhi, ORANGE, UHI)
    sns.lineplot(x=fit_x, y=fit_std, color=BLUE_LINE, lw=2, estimator=None, zorder=3, ax=ax)
    sns.lineplot(x=fit_x, y=fit_uhi, color=ORANGE_LINE, lw=2, estimator=None, zorder=3, ax=ax)
    lo, hi = limits[i]
    ax.plot([lo, hi], [lo, hi], "k--", lw=1, alpha=0.6, zorder=4)
    ax.set_xlim(lo, hi)
    ax.set_ylim(lo, hi)
    ax.set_xticks(ticks[i])
    ax.set_yticks(ticks[i])
    ax.grid(True, ls="--", lw=0.8, color="#b0b0b0", alpha=0.25)
    ax.set_axisbelow(False)
    ax.tick_params(labelsize=15, length=3.5, width=1, color="black", labelcolor="black")
    for spine in ax.spines.values():
        spine.set_color("black")
        spine.set_linewidth(1)
    ax.set_title(titles[i], fontsize=14, color="black")
    ax.set_xlabel(xlabels[i], fontsize=17, color="black")
    ax.set_ylabel(ylabels[i], fontsize=17, color="black")
    if i == 2:
        ax.legend(loc="upper left", frameon=False, fontsize=16, markerscale=2.1)
    else:
        ax.get_legend().remove()

fig.savefig("out.png", dpi=300)
